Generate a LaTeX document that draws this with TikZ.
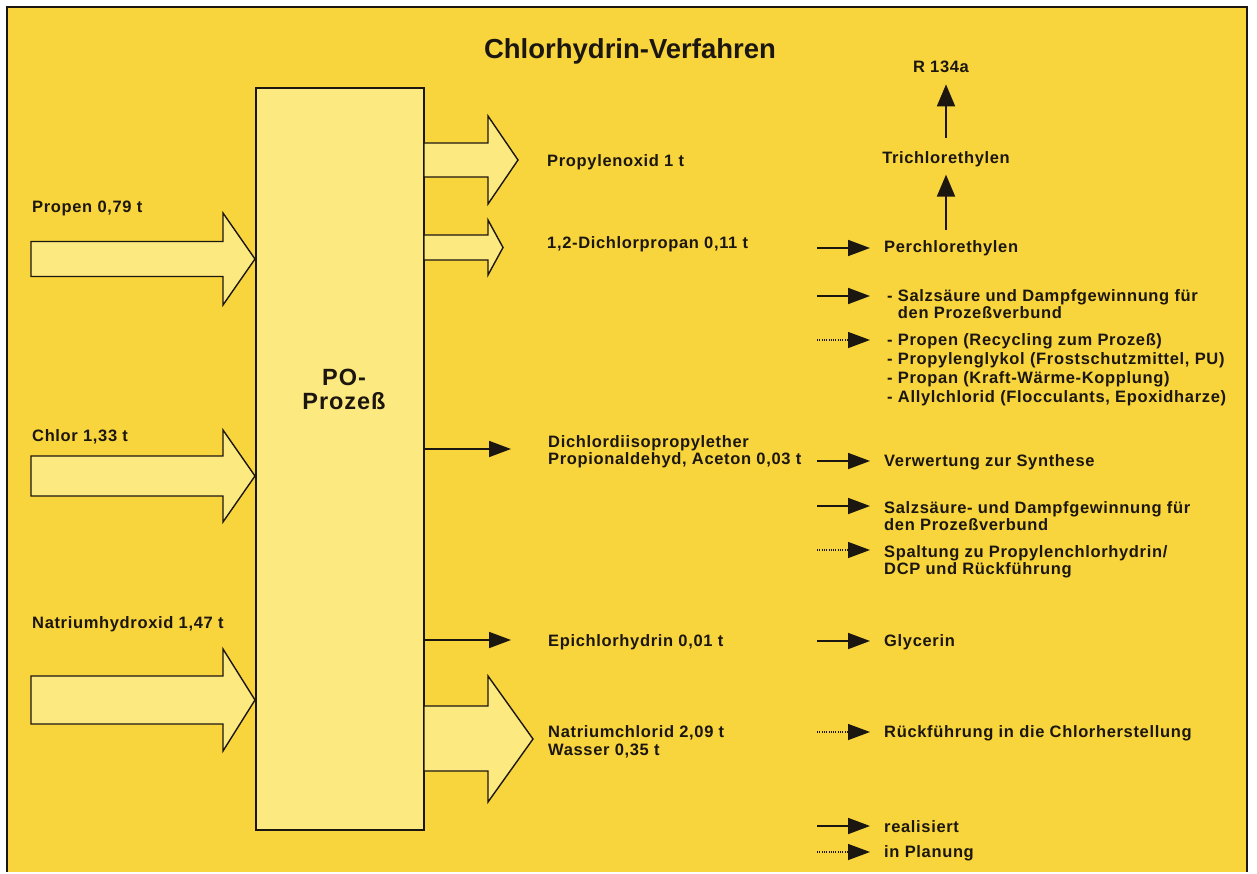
\documentclass[tikz,border=0pt]{standalone}
\usepackage{fontspec}
\usetikzlibrary{arrows.meta,calc}
\setmainfont{Liberation Sans}
\newfontfamily\labfam{Liberation Sans}[LetterSpace=4]
\definecolor{bg}{RGB}{248,213,60}
\definecolor{light}{RGB}{252,233,128}
\definecolor{ink}{RGB}{28,22,16}
\newcommand{\labfont}{\fontsize{16.5}{17}\selectfont\labfam\bfseries}
\begin{document}
\begin{tikzpicture}[x=1pt,y=-1pt,
  lab/.style={font=\labfont, text=ink, inner sep=0pt, anchor=base west, align=left},
  wide/.style={font=\fontsize{16.5}{18.7}\selectfont\labfam\bfseries},
  mid/.style={font=\fontsize{16.5}{18}\selectfont\labfam\bfseries},
  blk/.style={draw=ink, line width=1.4pt, fill=light, line join=miter},
  real/.style={draw=ink, line width=1.8pt, -{Triangle[length=22pt,width=16pt]}},
  plan/.style={draw=ink, line width=1.3pt, dash pattern=on 1pt off 1.3pt, -{Triangle[length=22pt,width=16pt]}},
  up/.style={draw=ink, line width=2pt, -{Triangle[length=22pt,width=18pt]}}]
\useasboundingbox (0,0) rectangle (1257,874);
% page and frame
\fill[white] (0,0) rectangle (1257,874);
\fill[bg] (7,7) rectangle (1247,872);
\draw[ink, line width=1.2pt] (7,872) -- (7,7) -- (1247,7) -- (1247,872);

% title
\node[font=\fontsize{27.5}{30}\selectfont\bfseries, text=ink, anchor=base, inner sep=0pt] (title) at (630,59) {Chlorhydrin-Verfahren};

% process block
\node[draw=ink, line width=1.5pt, fill=light, minimum width=168pt, minimum height=742pt, inner sep=0pt] (po) at (340,459) {};
\node[font=\fontsize{23.5}{24}\selectfont\labfam\bfseries, text=ink, align=center, inner sep=0pt] (potext) at (344,389) {PO-\\Prozeß};

% feed streams
\draw[blk] (31,241.5) -- (223,241.5) -- (223,213) -- (255,259) -- (223,305) -- (223,276.5) -- (31,276.5) -- cycle;
\draw[blk] (31,456) -- (223,456) -- (223,430) -- (255,476) -- (223,522) -- (223,496) -- (31,496) -- cycle;
\draw[blk] (31,676) -- (223,676) -- (223,649) -- (255,700) -- (223,751) -- (223,724) -- (31,724) -- cycle;
\node[lab] (propen) at (32,213) {Propen 0,79 t};
\node[lab] (chlor) at (32,441) {Chlor 1,33 t};
\node[lab] (naoh) at (32,628) {Natriumhydroxid 1,47 t};

% product streams (multi-line labels are placed by their last baseline)
\draw[blk] (424,143) -- (488,143) -- (488,116) -- (518,160) -- (488,204) -- (488,177) -- (424,177) -- cycle;
\draw[blk] (424,235) -- (488,235) -- (488,220) -- (503,247.5) -- (488,275) -- (488,260) -- (424,260) -- cycle;
\draw[blk] (424,706) -- (488,706) -- (488,676) -- (533,739) -- (488,802) -- (488,771) -- (424,771) -- cycle;
\node[lab] (po1) at (547,167) {Propylenoxid 1 t};
\node[lab] (dcp) at (547,249) {1,2-Dichlorpropan 0,11 t};
\node[lab] (dde) at (548,464) {Dichlordiisopropylether\\Propionaldehyd, Aceton 0,03 t};
\node[lab] (epi) at (548,646) {Epichlorhydrin 0,01 t};
\node[lab, mid] (nacl) at (548,755) {Natriumchlorid 2,09 t\\Wasser 0,35 t};

\coordinate (p1) at (424,449);
\coordinate (p2) at (424,640);
\draw[real] (p1) -- ($(p1 -| dde.west)+(-37,0)$);
\draw[real] (p2) -- ($(p2 -| epi.west)+(-37,0)$);

% uses
\node[lab] (perch) at (884,253) {Perchlorethylen};
\node[font=\labfont, text=ink, inner sep=0pt, anchor=base] (trich) at (946,164) {Trichlorethylen};
\node[font=\labfont, text=ink, inner sep=0pt, anchor=base] (r134) at (941,73) {R 134a};
\node[lab] (u2) at (887,318) {- Salzsäure und Dampfgewinnung für\\\hphantom{- }den Prozeßverbund};
\node[lab, wide] (u3) at (887,402) {- Propen (Recycling zum Prozeß)\\- Propylenglykol (Frostschutzmittel, PU)\\- Propan (Kraft-Wärme-Kopplung)\\- Allylchlorid (Flocculants, Epoxidharze)};
\node[lab] (u4) at (884,466) {Verwertung zur Synthese};
\node[lab] (u5) at (884,530) {Salzsäure- und Dampfgewinnung für\\den Prozeßverbund};
\node[lab] (u6) at (884,574) {Spaltung zu Propylenchlorhydrin/\\DCP und Rückführung};
\node[lab] (u7) at (884,646) {Glycerin};
\node[lab] (u8) at (884,737) {Rückführung in die Chlorherstellung};
\node[lab] (k1) at (884,832) {realisiert};
\node[lab] (k2) at (884,857) {in Planung};

\coordinate (r1) at (817,248);
\coordinate (r2) at (817,296);
\coordinate (r3) at (817,340);
\coordinate (r4) at (817,461);
\coordinate (r5) at (817,506);
\coordinate (r6) at (817,550);
\coordinate (r7) at (817,641);
\coordinate (r8) at (817,732);
\coordinate (r9) at (817,826);
\coordinate (r10) at (817,852);
\draw[real] (r1) -- ($(r1 -| perch.west)+(-14,0)$);
\draw[real] (r2) -- ($(r2 -| u2.west)+(-17,0)$);
\draw[plan] (r3) -- ($(r3 -| u3.west)+(-17,0)$);
\draw[real] (r4) -- ($(r4 -| u4.west)+(-14,0)$);
\draw[real] (r5) -- ($(r5 -| u5.west)+(-14,0)$);
\draw[plan] (r6) -- ($(r6 -| u6.west)+(-14,0)$);
\draw[real] (r7) -- ($(r7 -| u7.west)+(-14,0)$);
\draw[plan] (r8) -- ($(r8 -| u8.west)+(-14,0)$);
\draw[real] (r9) -- ($(r9 -| k1.west)+(-14,0)$);
\draw[plan] (r10) -- ($(r10 -| k2.west)+(-14,0)$);

% chain to R 134a
\draw[up, shorten <=11pt, shorten >=7pt] (perch.north -| trich.south) -- (trich.south);
\draw[up, shorten <=14pt, shorten >=11pt] (trich.north) -- (r134.south -| trich.north);
\end{tikzpicture}
\end{document}
